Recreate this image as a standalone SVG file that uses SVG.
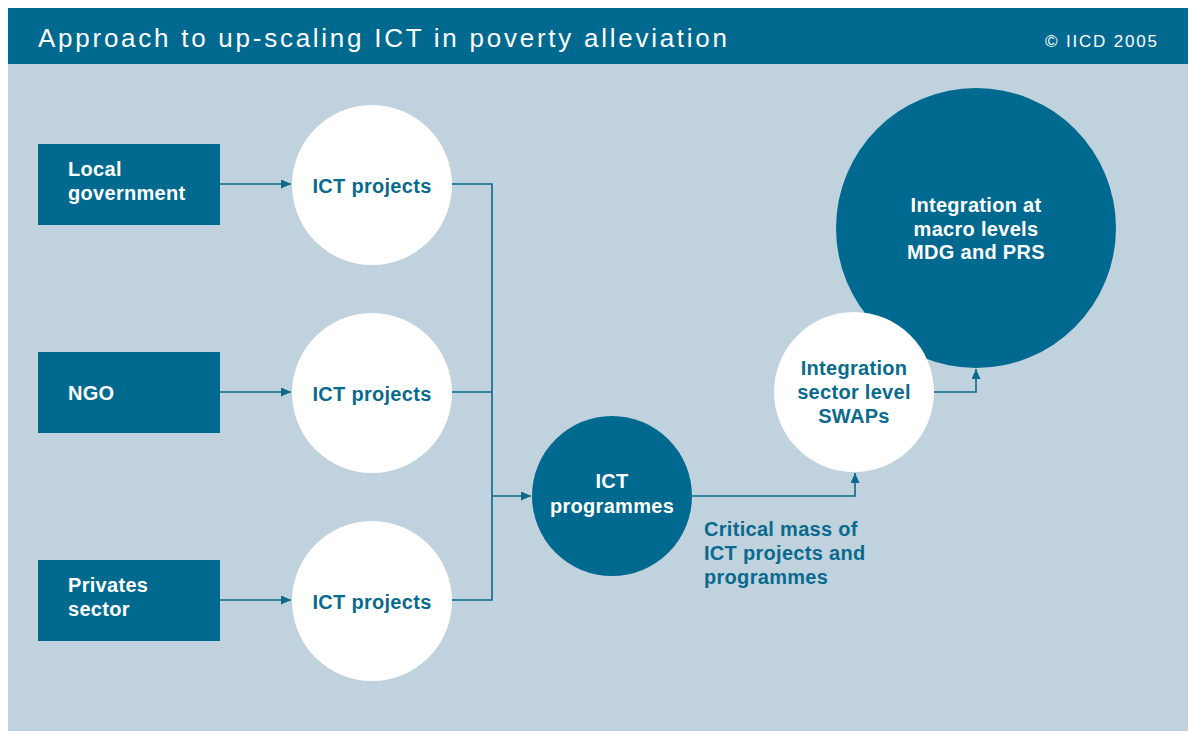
<svg xmlns="http://www.w3.org/2000/svg" width="1193" height="731" viewBox="0 0 1193 731">
<defs>
<style>
.panel{fill:#bfd2de}
.head{fill:#006990}
.dark{fill:#006990}
.light{fill:#ffffff}
.title{font-family:"Liberation Sans",Arial,sans-serif;fill:#ffffff}
.lbl{font-family:"Liberation Sans",Arial,sans-serif;font-weight:bold;font-size:20px;letter-spacing:0.3px}
.w{fill:#ffffff}
.b{fill:#0a6a8d}
.c{text-anchor:middle}
.ln{fill:none;stroke:#0a6a8d;stroke-width:1.6}
</style>
<marker id="ah" markerUnits="userSpaceOnUse" markerWidth="10" markerHeight="10" refX="10" refY="4.5" orient="auto">
<path d="M0,0 L10,4.5 L0,9 z" fill="#0a6a8d"/>
</marker>
</defs>
<rect x="0" y="0" width="1193" height="731" fill="#ffffff"/>
<rect class="panel" x="8" y="8" width="1180" height="723"/>
<rect class="head" x="8" y="8" width="1180" height="56"/>
<text class="title" x="38" y="47" font-size="26" textLength="689" lengthAdjust="spacing">Approach to up-scaling ICT in poverty alleviation</text>
<text class="title" x="1045" y="47" font-size="17" textLength="112" lengthAdjust="spacing">© IICD 2005</text>

<g id="connectors">
<path class="ln" d="M220,184 H291" marker-end="url(#ah)"/>
<path class="ln" d="M220,392 H291" marker-end="url(#ah)"/>
<path class="ln" d="M220,600 H291" marker-end="url(#ah)"/>
<path class="ln" d="M452,184 H492 V600 H452"/>
<path class="ln" d="M452,392 H492"/>
<path class="ln" d="M492,496 H531" marker-end="url(#ah)"/>
<path class="ln" d="M692,496 H855 V473" marker-end="url(#ah)"/>
<path class="ln" d="M934,392 H976 V369" marker-end="url(#ah)"/>
</g>

<g id="local-government">
<rect class="dark" x="38" y="144" width="182" height="81"/>
<text class="lbl w" x="68" y="176">Local</text>
<text class="lbl w" x="68" y="200">government</text>
</g>
<g id="ngo">
<rect class="dark" x="38" y="352" width="182" height="81"/>
<text class="lbl w" x="68" y="400">NGO</text>
</g>
<g id="privates-sector">
<rect class="dark" x="38" y="560" width="182" height="81"/>
<text class="lbl w" x="68" y="592">Privates</text>
<text class="lbl w" x="68" y="616">sector</text>
</g>

<g id="ict-projects-1">
<circle class="light" cx="372" cy="185" r="80"/>
<text class="lbl b c" x="372" y="193">ICT projects</text>
</g>
<g id="ict-projects-2">
<circle class="light" cx="372" cy="393" r="80"/>
<text class="lbl b c" x="372" y="401">ICT projects</text>
</g>
<g id="ict-projects-3">
<circle class="light" cx="372" cy="601" r="80"/>
<text class="lbl b c" x="372" y="609">ICT projects</text>
</g>

<g id="ict-programmes">
<circle class="dark" cx="612" cy="496" r="80"/>
<text class="lbl w c" x="612" y="488">ICT</text>
<text class="lbl w c" x="612" y="513">programmes</text>
</g>

<g id="critical-mass">
<text class="lbl b" x="704" y="536">Critical mass of</text>
<text class="lbl b" x="704" y="560">ICT projects and</text>
<text class="lbl b" x="704" y="584">programmes</text>
</g>

<g id="macro-integration">
<circle class="dark" cx="976" cy="228" r="140"/>
<text class="lbl w c" x="976" y="212">Integration at</text>
<text class="lbl w c" x="976" y="236">macro levels</text>
<text class="lbl w c" x="976" y="259">MDG and PRS</text>
</g>

<g id="sector-integration">
<circle class="light" cx="854" cy="392" r="80"/>
<text class="lbl b c" x="854" y="375">Integration</text>
<text class="lbl b c" x="854" y="399">sector level</text>
<text class="lbl b c" x="854" y="423">SWAPs</text>
</g>
</svg>
